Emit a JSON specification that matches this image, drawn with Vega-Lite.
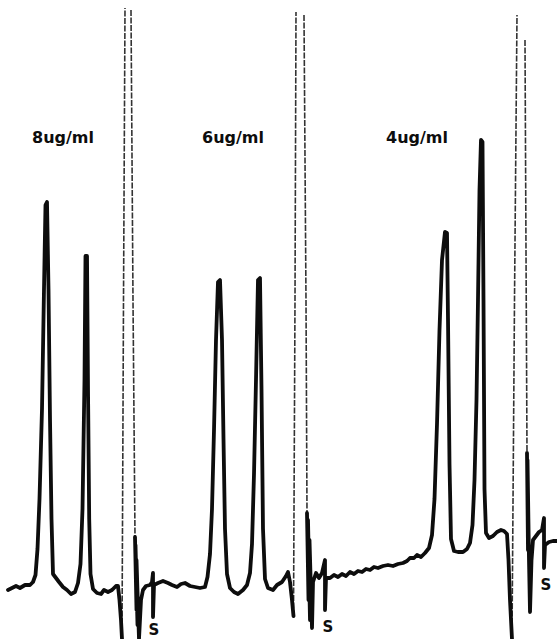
{
  "$schema": "https://vega.github.io/schema/vega-lite/v6.json",
  "width": 557,
  "height": 639,
  "autosize": {"type": "fit", "contains": "padding"},
  "padding": 0,
  "background": "white",
  "config": {"view": {"stroke": null}},
  "datasets": {
    "trace": [
      {"seg":"t1","o":1,"t":8,"v":49},{"seg":"t1","o":2,"t":12,"v":51},{"seg":"t1","o":3,"t":16,"v":53},{"seg":"t1","o":4,"t":20,"v":51},{"seg":"t1","o":5,"t":25,"v":54},{"seg":"t1","o":6,"t":30,"v":54},{"seg":"t1","o":7,"t":33,"v":57},{"seg":"t1","o":8,"t":35.5,"v":64},{"seg":"t1","o":9,"t":37.5,"v":90},{"seg":"t1","o":10,"t":39.5,"v":140},{"seg":"t1","o":11,"t":42,"v":230},{"seg":"t1","o":12,"t":44,"v":350},{"seg":"t1","o":13,"t":45.5,"v":434},{"seg":"t1","o":14,"t":47,"v":437},{"seg":"t1","o":15,"t":48.5,"v":350},{"seg":"t1","o":16,"t":50,"v":220},{"seg":"t1","o":17,"t":51.5,"v":120},{"seg":"t1","o":18,"t":53,"v":65},{"seg":"t1","o":19,"t":56,"v":61},{"seg":"t1","o":20,"t":59,"v":57},{"seg":"t1","o":21,"t":63,"v":52},{"seg":"t1","o":22,"t":67,"v":49},{"seg":"t1","o":23,"t":71,"v":45},{"seg":"t1","o":24,"t":75,"v":47},{"seg":"t1","o":25,"t":78,"v":56},{"seg":"t1","o":26,"t":80.5,"v":75},{"seg":"t1","o":27,"t":82.5,"v":130},{"seg":"t1","o":28,"t":84.5,"v":259},{"seg":"t1","o":29,"t":85.5,"v":383},{"seg":"t1","o":30,"t":87,"v":383},{"seg":"t1","o":31,"t":88,"v":250},{"seg":"t1","o":32,"t":89.2,"v":120},{"seg":"t1","o":33,"t":90.5,"v":65},{"seg":"t1","o":34,"t":93,"v":50},{"seg":"t1","o":35,"t":97,"v":46},{"seg":"t1","o":36,"t":101,"v":45},{"seg":"t1","o":37,"t":104,"v":49},{"seg":"t1","o":38,"t":108,"v":47},{"seg":"t1","o":39,"t":112,"v":49},{"seg":"t1","o":40,"t":116,"v":53},{"seg":"t1","o":41,"t":118,"v":53},{"seg":"t1","o":42,"t":119.5,"v":39},{"seg":"t1","o":43,"t":121,"v":19},{"seg":"t1","o":44,"t":122,"v":0},

      {"seg":"t2","o":1,"t":135,"v":102},{"seg":"t2","o":2,"t":136.5,"v":29},{"seg":"t2","o":3,"t":135.5,"v":94},{"seg":"t2","o":4,"t":137.5,"v":14},{"seg":"t2","o":5,"t":136.5,"v":79},{"seg":"t2","o":6,"t":139,"v":0},{"seg":"t2","o":7,"t":141,"v":39},{"seg":"t2","o":8,"t":143,"v":49},{"seg":"t2","o":9,"t":146,"v":53},{"seg":"t2","o":10,"t":150,"v":54},{"seg":"t2","o":11,"t":152,"v":57},{"seg":"t2","o":12,"t":153,"v":66},{"seg":"t2","o":13,"t":153,"v":22},{"seg":"t2","o":14,"t":154,"v":54},{"seg":"t2","o":15,"t":158,"v":56},{"seg":"t2","o":16,"t":163,"v":58},{"seg":"t2","o":17,"t":168,"v":56},{"seg":"t2","o":18,"t":172,"v":54},{"seg":"t2","o":19,"t":177,"v":52},{"seg":"t2","o":20,"t":181,"v":55},{"seg":"t2","o":21,"t":185,"v":56},{"seg":"t2","o":22,"t":190,"v":53},{"seg":"t2","o":23,"t":195,"v":52},{"seg":"t2","o":24,"t":200,"v":51},{"seg":"t2","o":25,"t":205,"v":52},{"seg":"t2","o":26,"t":207.5,"v":62},{"seg":"t2","o":27,"t":210,"v":85},{"seg":"t2","o":28,"t":212,"v":130},{"seg":"t2","o":29,"t":214,"v":209},{"seg":"t2","o":30,"t":216,"v":299},{"seg":"t2","o":31,"t":218,"v":357},{"seg":"t2","o":32,"t":220,"v":359},{"seg":"t2","o":33,"t":222,"v":299},{"seg":"t2","o":34,"t":223.5,"v":200},{"seg":"t2","o":35,"t":225,"v":110},{"seg":"t2","o":36,"t":227,"v":65},{"seg":"t2","o":37,"t":230,"v":51},{"seg":"t2","o":38,"t":234,"v":47},{"seg":"t2","o":39,"t":238,"v":45},{"seg":"t2","o":40,"t":243,"v":49},{"seg":"t2","o":41,"t":247,"v":54},{"seg":"t2","o":42,"t":250,"v":66},{"seg":"t2","o":43,"t":252,"v":95},{"seg":"t2","o":44,"t":254,"v":165},{"seg":"t2","o":45,"t":256,"v":259},{"seg":"t2","o":46,"t":258,"v":359},{"seg":"t2","o":47,"t":260,"v":361},{"seg":"t2","o":48,"t":261.5,"v":250},{"seg":"t2","o":49,"t":263,"v":110},{"seg":"t2","o":50,"t":265,"v":60},{"seg":"t2","o":51,"t":268,"v":51},{"seg":"t2","o":52,"t":273,"v":49},{"seg":"t2","o":53,"t":277,"v":54},{"seg":"t2","o":54,"t":282,"v":57},{"seg":"t2","o":55,"t":286,"v":63},{"seg":"t2","o":56,"t":288,"v":67},{"seg":"t2","o":57,"t":290,"v":57},{"seg":"t2","o":58,"t":292,"v":39},{"seg":"t2","o":59,"t":293.5,"v":23},

      {"seg":"t3","o":1,"t":307,"v":126},{"seg":"t3","o":2,"t":308.5,"v":39},{"seg":"t3","o":3,"t":308,"v":119},{"seg":"t3","o":4,"t":310,"v":19},{"seg":"t3","o":5,"t":309.5,"v":99},{"seg":"t3","o":6,"t":312,"v":11},{"seg":"t3","o":7,"t":313,"v":57},{"seg":"t3","o":8,"t":316,"v":66},{"seg":"t3","o":9,"t":319,"v":61},{"seg":"t3","o":10,"t":322,"v":66},{"seg":"t3","o":11,"t":325,"v":79},{"seg":"t3","o":12,"t":325,"v":29},{"seg":"t3","o":13,"t":326,"v":61},{"seg":"t3","o":14,"t":330,"v":61},{"seg":"t3","o":15,"t":334,"v":64},{"seg":"t3","o":16,"t":338,"v":62},{"seg":"t3","o":17,"t":342,"v":65},{"seg":"t3","o":18,"t":346,"v":63},{"seg":"t3","o":19,"t":350,"v":67},{"seg":"t3","o":20,"t":354,"v":65},{"seg":"t3","o":21,"t":358,"v":68},{"seg":"t3","o":22,"t":362,"v":67},{"seg":"t3","o":23,"t":366,"v":70},{"seg":"t3","o":24,"t":370,"v":69},{"seg":"t3","o":25,"t":374,"v":72},{"seg":"t3","o":26,"t":378,"v":71},{"seg":"t3","o":27,"t":383,"v":73},{"seg":"t3","o":28,"t":388,"v":74},{"seg":"t3","o":29,"t":393,"v":73},{"seg":"t3","o":30,"t":398,"v":75},{"seg":"t3","o":31,"t":403,"v":76},{"seg":"t3","o":32,"t":407,"v":78},{"seg":"t3","o":33,"t":410,"v":81},{"seg":"t3","o":34,"t":414,"v":81},{"seg":"t3","o":35,"t":417,"v":84},{"seg":"t3","o":36,"t":421,"v":82},{"seg":"t3","o":37,"t":425,"v":86},{"seg":"t3","o":38,"t":429,"v":91},{"seg":"t3","o":39,"t":432,"v":104},{"seg":"t3","o":40,"t":434.5,"v":140},{"seg":"t3","o":41,"t":437,"v":215},{"seg":"t3","o":42,"t":439.5,"v":309},{"seg":"t3","o":43,"t":442,"v":379},{"seg":"t3","o":44,"t":445,"v":407},{"seg":"t3","o":45,"t":447,"v":406},{"seg":"t3","o":46,"t":448,"v":320},{"seg":"t3","o":47,"t":449.5,"v":175},{"seg":"t3","o":48,"t":451,"v":100},{"seg":"t3","o":49,"t":454,"v":88},{"seg":"t3","o":50,"t":458,"v":87},{"seg":"t3","o":51,"t":463,"v":87},{"seg":"t3","o":52,"t":467,"v":90},{"seg":"t3","o":53,"t":470,"v":96},{"seg":"t3","o":54,"t":472.5,"v":114},{"seg":"t3","o":55,"t":474.5,"v":159},{"seg":"t3","o":56,"t":476.5,"v":239},{"seg":"t3","o":57,"t":478,"v":339},{"seg":"t3","o":58,"t":479.5,"v":449},{"seg":"t3","o":59,"t":481,"v":499},{"seg":"t3","o":60,"t":482.5,"v":497},{"seg":"t3","o":61,"t":483.5,"v":339},{"seg":"t3","o":62,"t":484.5,"v":150},{"seg":"t3","o":63,"t":486,"v":106},{"seg":"t3","o":64,"t":489,"v":101},{"seg":"t3","o":65,"t":493,"v":103},{"seg":"t3","o":66,"t":497,"v":107},{"seg":"t3","o":67,"t":501,"v":109},{"seg":"t3","o":68,"t":504,"v":108},{"seg":"t3","o":69,"t":507,"v":105},{"seg":"t3","o":70,"t":508.5,"v":79},{"seg":"t3","o":71,"t":510,"v":39},{"seg":"t3","o":72,"t":512,"v":0},

      {"seg":"t4","o":1,"t":527,"v":186},{"seg":"t4","o":2,"t":528,"v":89},{"seg":"t4","o":3,"t":527.5,"v":179},{"seg":"t4","o":4,"t":529,"v":79},{"seg":"t4","o":5,"t":530,"v":27},{"seg":"t4","o":6,"t":531.5,"v":79},{"seg":"t4","o":7,"t":533,"v":99},{"seg":"t4","o":8,"t":536,"v":103},{"seg":"t4","o":9,"t":539,"v":107},{"seg":"t4","o":10,"t":542,"v":109},{"seg":"t4","o":11,"t":544,"v":121},{"seg":"t4","o":12,"t":544,"v":71},{"seg":"t4","o":13,"t":545,"v":94},{"seg":"t4","o":14,"t":549,"v":97},{"seg":"t4","o":15,"t":553,"v":98},{"seg":"t4","o":16,"t":557,"v":98}
    ],
    "spikes": [
      {"seg":"s1a","o":1,"t":122,"v":0},{"seg":"s1a","o":2,"t":123.5,"v":339},{"seg":"s1a","o":3,"t":125,"v":631},
      {"seg":"s1b","o":1,"t":131,"v":629},{"seg":"s1b","o":2,"t":133,"v":339},{"seg":"s1b","o":3,"t":135,"v":102},
      {"seg":"s2a","o":1,"t":293.5,"v":23},{"seg":"s2a","o":2,"t":295,"v":339},{"seg":"s2a","o":3,"t":296,"v":627},
      {"seg":"s2b","o":1,"t":304,"v":624},{"seg":"s2b","o":2,"t":306,"v":339},{"seg":"s2b","o":3,"t":307,"v":126},
      {"seg":"s3a","o":1,"t":512,"v":0},{"seg":"s3a","o":2,"t":514.5,"v":339},{"seg":"s3a","o":3,"t":517,"v":624},
      {"seg":"s3b","o":1,"t":525,"v":599},{"seg":"s3b","o":2,"t":526,"v":389},{"seg":"s3b","o":3,"t":527,"v":186}
    ],
    "labels": [
      {"label":"8ug/ml","t":63,"v":496,"size":16},
      {"label":"6ug/ml","t":233,"v":496,"size":16},
      {"label":"4ug/ml","t":417,"v":496,"size":16},
      {"label":"S","t":154,"v":4,"size":15},
      {"label":"S","t":328,"v":7,"size":15},
      {"label":"S","t":546,"v":49,"size":15}
    ]
  },
  "layer": [
    {
      "data": {"name": "spikes"},
      "mark": {"type": "line", "color": "#333", "strokeWidth": 1.6, "strokeDash": [6, 1.5], "clip": true},
      "encoding": {
        "x": {"field": "t", "type": "quantitative", "scale": {"domain": [0, 557]}, "axis": null},
        "y": {"field": "v", "type": "quantitative", "scale": {"domain": [0, 639]}, "axis": null},
        "detail": {"field": "seg"},
        "order": {"field": "o"}
      }
    },
    {
      "data": {"name": "trace"},
      "mark": {"type": "line", "color": "#0d0d0d", "strokeWidth": 3.8, "strokeJoin": "round", "strokeCap": "round", "clip": true},
      "encoding": {
        "x": {"field": "t", "type": "quantitative", "scale": {"domain": [0, 557]}, "axis": null},
        "y": {"field": "v", "type": "quantitative", "scale": {"domain": [0, 639]}, "axis": null},
        "detail": {"field": "seg"},
        "order": {"field": "o"}
      }
    },
    {
      "data": {"name": "labels"},
      "mark": {"type": "text", "font": "DejaVu Sans", "fontWeight": "bold", "color": "#0d0d0d", "baseline": "alphabetic", "align": "center"},
      "encoding": {
        "x": {"field": "t", "type": "quantitative", "scale": {"domain": [0, 557]}, "axis": null},
        "y": {"field": "v", "type": "quantitative", "scale": {"domain": [0, 639]}, "axis": null},
        "text": {"field": "label"},
        "size": {"field": "size", "type": "quantitative", "scale": null, "legend": null}
      }
    }
  ]
}
